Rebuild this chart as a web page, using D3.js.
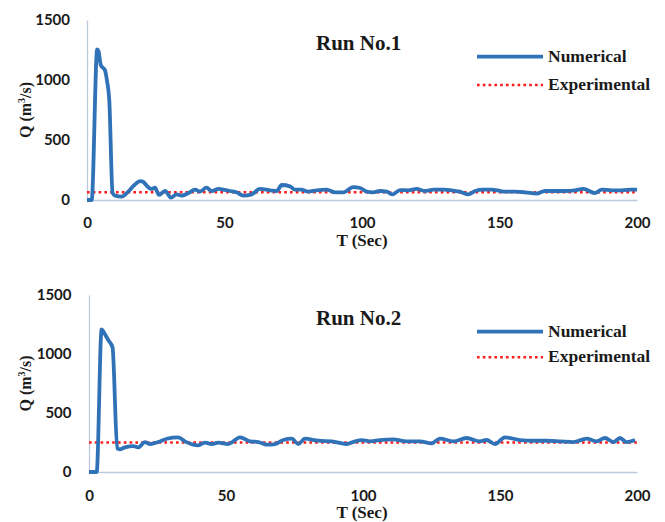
<!DOCTYPE html>
<html>
<head>
<meta charset="utf-8">
<script src="https://cdn.jsdelivr.net/npm/d3@7/dist/d3.min.js"></script>
<style>
  html, body { margin: 0; padding: 0; background: #ffffff; }
  svg { display: block; }
</style>
</head>
<body>
<svg id="chart" width="665" height="522"></svg>
<script>
// ---------- DATA ----------
const xTicks = [0, 50, 100, 150, 200];
const yTicks = [0, 500, 1000, 1500];
const seriesNames = ["Numerical", "Experimental"];
const runTitles = ["Run No.1", "Run No.2"];

// Run No.1 numerical discharge (T in s, Q in m3/s)
const time1 = [0, 1.7, 3.7, 4.2, 5, 6.5, 7.3, 8.1, 9.3, 10.2, 12.6, 15, 17, 19.3, 20.5, 21.7, 23.5, 24.7, 26.2, 28.4, 30.5, 32.6, 34.4, 36.8, 39.3, 41.1, 43.5, 45.3, 47.8, 50, 52, 54.4, 56.8, 59.9, 62.9, 66.5, 69, 70.8, 73.8, 75.6, 78, 80.4, 83.5, 87.2, 90.2, 93.2, 96.8, 99.3, 101.7, 104.1, 106.5, 109, 111.2, 113.8, 116.8, 119.9, 122.9, 126, 129.6, 132.6, 135.6, 138.7, 141.1, 144.1, 147.2, 150.2, 152, 155.6, 159.3, 163.5, 166.5, 170.2, 173.8, 177.5, 180.5, 184.7, 187.2, 190.8, 194.4, 198, 200];
const q1 = [0, 0, 1256, 1240, 1125, 1083, 990, 833, 58, 36, 28, 70, 120, 158, 150, 120, 92, 103, 42, 75, 20, 47, 36, 56, 86, 70, 103, 75, 92, 85, 75, 64, 36, 47, 92, 81, 75, 125, 114, 86, 86, 70, 81, 86, 64, 64, 108, 100, 70, 64, 75, 69, 47, 83, 81, 92, 75, 86, 86, 81, 69, 47, 75, 86, 86, 75, 69, 69, 64, 53, 75, 75, 75, 81, 92, 58, 86, 81, 81, 86, 86];
const exp1 = 65;

// Run No.2 numerical discharge
const time2 = [0, 2.8, 4.6, 5.5, 7.0, 8.6, 10.3, 11.2, 13.1, 16.2, 18, 20.4, 22.3, 25.3, 28.4, 32.6, 35, 39.9, 42.3, 44.8, 47.2, 50.8, 55.1, 58.8, 61.8, 64.9, 67.9, 70.9, 74, 76.4, 78.8, 83.7, 88.6, 94, 97.1, 99.5, 102.6, 106.2, 111, 115.9, 120.8, 125, 128.1, 133, 137.8, 142.7, 145.1, 148.2, 151.8, 157.3, 162.2, 167, 171.9, 176.8, 181.6, 185.3, 188.3, 191.4, 193.8, 196.2, 199.3];
const q2 = [0, 0, 1209, 1180, 1119, 1056, 200, 193, 209, 220, 209, 254, 237, 254, 282, 294, 260, 226, 249, 237, 249, 237, 294, 260, 254, 232, 237, 271, 282, 237, 282, 265, 260, 237, 260, 270, 260, 271, 277, 260, 260, 243, 282, 260, 288, 260, 271, 237, 294, 271, 265, 265, 260, 254, 282, 260, 288, 254, 288, 254, 271];
const exp2 = 250;

// ---------- DRAW ----------
const svg = d3.select("#chart");
const blue = "#2F72B7";
const red = "#FF1A1A";
const axisColor = "#BCC8DC";
const serif = "'Liberation Serif', 'Times New Roman', serif";
const sans = "Lato, 'Liberation Sans', sans-serif";
const fmt = d3.format("d");

const panels = [
  { title: runTitles[0], t: time1, q: q1, exp: exp1,
    x0: 87, x1: 637, yTop: 20, yBot: 200, yPad: 17, xPad: 17,
    legY1: 36.7, legY2: 65 },
  { title: runTitles[1], t: time2, q: q2, exp: exp2,
    x0: 89, x1: 637, yTop: 295, yBot: 472, yPad: 17.5, xPad: 18,
    legY1: 36.7, legY2: 62.3 }
];

panels.forEach(p => {
  const x = d3.scaleLinear().domain([0, 200]).range([p.x0, p.x1]);
  const y = d3.scaleLinear().domain([0, 1500]).range([p.yBot, p.yTop]);
  const g = svg.append("g");

  // axes
  const yAxis = d3.axisLeft(y).tickValues(yTicks).tickFormat(fmt).tickSize(0).tickSizeOuter(0).tickPadding(p.yPad);
  const ya = g.append("g").attr("transform", `translate(${p.x0},0)`).call(yAxis);
  const xAxis = d3.axisBottom(x).tickValues(xTicks).tickFormat(fmt).tickSize(0).tickSizeOuter(0).tickPadding(p.xPad);
  const xa = g.append("g").attr("transform", `translate(0,${p.yBot})`).call(xAxis);
  [ya, xa].forEach(a => {
    a.select(".domain").attr("stroke", axisColor).attr("stroke-width", 1.3);
    a.selectAll("text").attr("font-family", sans).attr("font-weight", "bold")
      .attr("font-size", 15).attr("fill", "#1a1a1a");
  });

  // experimental line
  g.append("path")
    .datum([0, 200])
    .attr("d", d3.line().x(d => x(d)).y(() => y(p.exp)))
    .attr("fill", "none").attr("stroke", red).attr("stroke-width", 2.6)
    .attr("stroke-dasharray", "2.6,3.2");

  // numerical line
  const pts = p.t.map((tv, i) => [tv, p.q[i]]);
  g.append("path")
    .datum(pts)
    .attr("d", d3.line().x(d => x(d[0])).y(d => y(d[1])).curve(d3.curveMonotoneX))
    .attr("fill", "none").attr("stroke", blue).attr("stroke-width", 3.8)
    .attr("stroke-linejoin", "round");

  // title
  g.append("text").attr("x", 316).attr("y", p.yTop + 30)
    .attr("font-family", serif).attr("font-weight", "bold").attr("font-size", 21)
    .attr("fill", "#1a1a1a").text(p.title);

  // legend
  const lx0 = 477, lx1 = 543, tx = 548;
  g.append("line").attr("x1", lx0).attr("x2", lx1)
    .attr("y1", p.yTop + p.legY1).attr("y2", p.yTop + p.legY1)
    .attr("stroke", blue).attr("stroke-width", 3.8);
  g.append("text").attr("x", tx).attr("y", p.yTop + p.legY1 + 5.5)
    .attr("font-family", serif).attr("font-weight", "bold").attr("font-size", 17.5)
    .attr("fill", "#1a1a1a").text(seriesNames[0]);
  g.append("line").attr("x1", lx0).attr("x2", lx1)
    .attr("y1", p.yTop + p.legY2).attr("y2", p.yTop + p.legY2)
    .attr("stroke", red).attr("stroke-width", 2.6).attr("stroke-dasharray", "2.6,3.2");
  g.append("text").attr("x", tx).attr("y", p.yTop + p.legY2 + 5)
    .attr("font-family", serif).attr("font-weight", "bold").attr("font-size", 17.5)
    .attr("fill", "#1a1a1a").text(seriesNames[1]);

  // axis titles
  g.append("text").attr("x", 362).attr("y", p.yBot + 46)
    .attr("text-anchor", "middle")
    .attr("font-family", serif).attr("font-weight", "bold").attr("font-size", 17)
    .attr("fill", "#1a1a1a").text("T (Sec)");

  const cy = (p.yTop + p.yBot) / 2;
  const yt = g.append("text")
    .attr("transform", `translate(31,${cy}) rotate(-90)`)
    .attr("text-anchor", "middle")
    .attr("font-family", serif).attr("font-weight", "bold").attr("font-size", 16)
    .attr("fill", "#1a1a1a");
  yt.append("tspan").text("Q (m");
  yt.append("tspan").attr("font-size", 10).attr("dy", -6).text("3");
  yt.append("tspan").attr("dy", 6).text("/s)");
});
</script>
</body>
</html>
